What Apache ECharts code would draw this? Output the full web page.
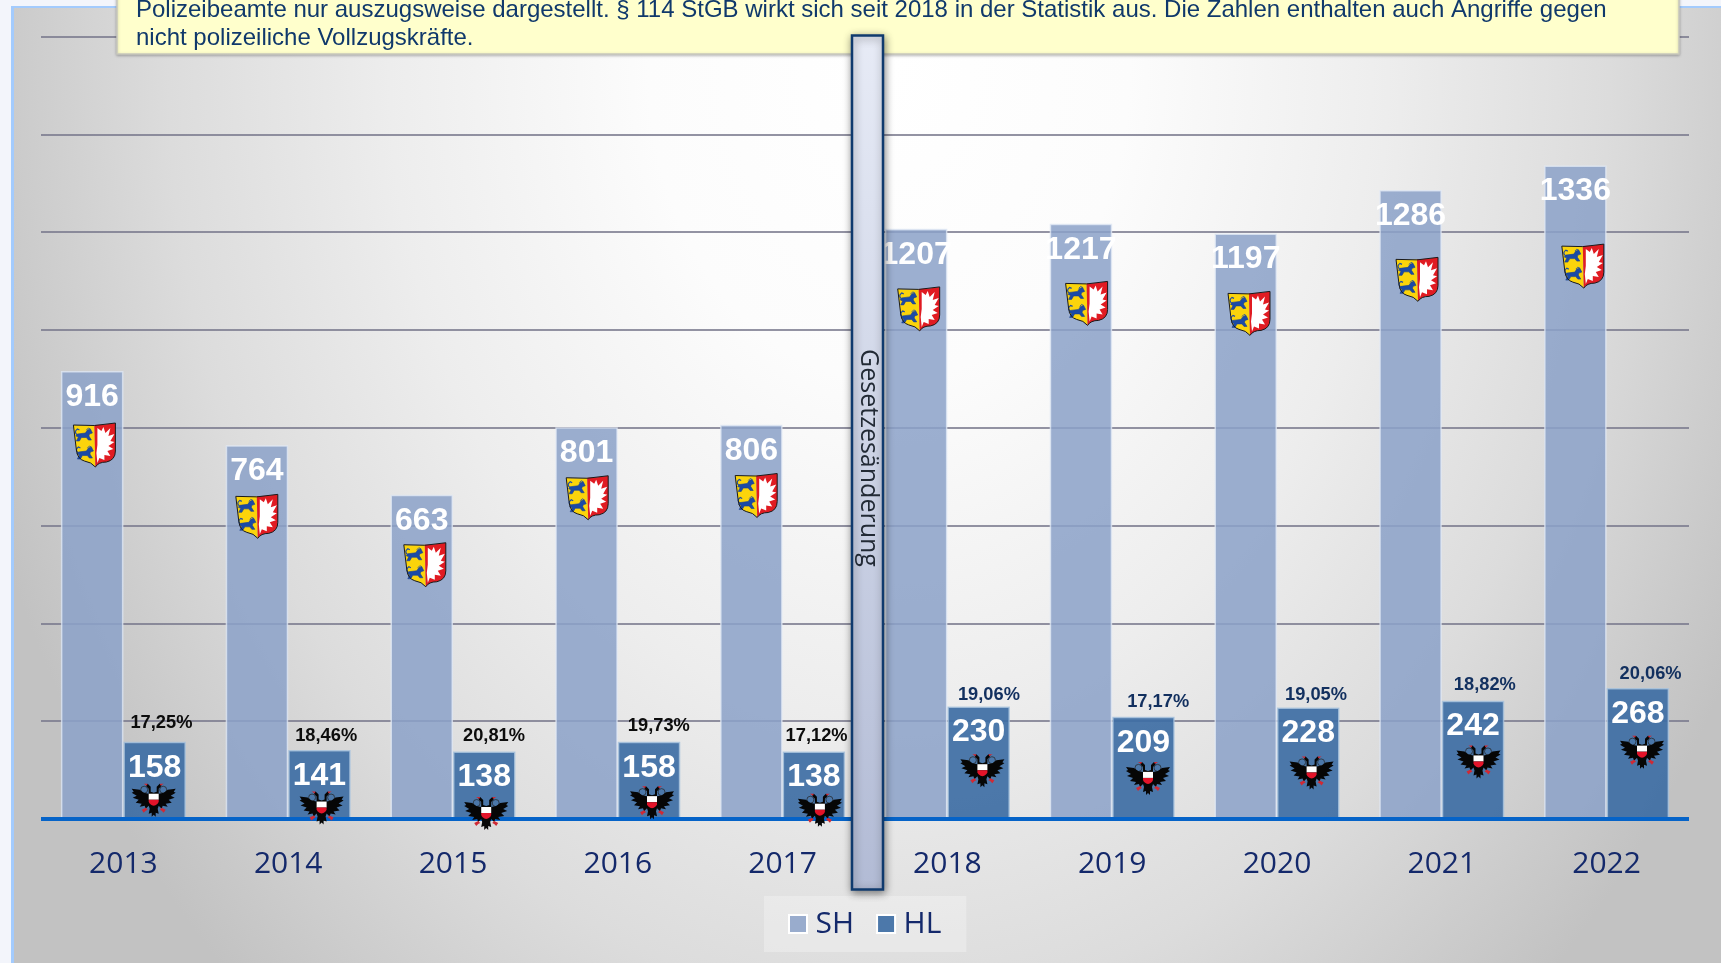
<!DOCTYPE html>
<html><head><meta charset="utf-8"><title>Widerstand gegen Vollstreckungsbeamte</title>
<style>
html,body{margin:0;padding:0;width:1721px;height:963px;overflow:hidden;background:#f3f5fb}
#panel{position:absolute;left:11px;top:6px;width:1710px;height:957px;box-sizing:border-box;border-left:3px solid #a3cbfd;border-top:2px solid #a3cbfd;
background:radial-gradient(ellipse 960px 1250px at 875px 60px,#ffffff 0%,#fcfcfc 25%,#ededed 52%,#dcdcdc 75%,#c2c2c2 100%)}
#chart{position:absolute;left:0;top:0;width:1721px;height:963px}
</style>
<script src="https://cdn.jsdelivr.net/npm/echarts@6/dist/echarts.min.js"></script>
</head><body><div id="panel"></div><div id="chart"></div>
<script>
const years = ['2013','2014','2015','2016','2017','2018','2019','2020','2021','2022'];
const shValues = [916,764,663,801,806,1207,1217,1197,1286,1336];
const hlValues = [158,141,138,158,138,230,209,228,242,268];
const hlShares = ['17,25%','18,46%','20,81%','19,73%','17,12%','19,06%','17,17%','19,05%','18,82%','20,06%'];
const noteLines = ['Polizeibeamte nur auszugsweise dargestellt. § 114 StGB wirkt sich seit 2018 in der Statistik aus. Die Zahlen enthalten auch Angriffe gegen','nicht polizeiliche Vollzugskräfte.'];
const lawChange = 'Gesetzesänderung';

// label and emblem offsets, relative to the library's own bar-top coordinate
const shareDx = [38,38,41,41,34,41.5,46,39,43,44];
const shareDy = [-18.7,-13.7,-15.2,-15.3,-15.2,-11.9,-14.5,-12.9,-15.9,-14.2];
const shieldDx = [-29,-31.4,-28.2,-30.6,-26.4,-28.7,-25.6,-28,-24.8,-23.8];
const shieldDy = [74,71,70,70.5,70.7,80.2,79.6,79.8,89.3,100.5];
const eagleDx = [30.3,33.4,33.2,34.2,37.3,35,35.8,34.6,36.7,35.4];
const eagleDy = [60,59.5,63.5,62.4,60.2,65.7,63.1,66.9,62.8,65.7];

const lionBody = 'M2,5L10,4L12,1L15,0L17,4L14,5L13.5,7L16,11L13,11L11,8.5L6,8.5L4,12L1,12L3,8L0.5,7Z';
const lionTail = 'M2,6Q-2,3 2,0L4,1';
function lionGroup(x,y){
  return {type:'group',x:x,y:y,children:[
    {type:'path',shape:{pathData:lionBody},style:{fill:'#1b4aa6',stroke:'#173f90',lineWidth:.6}},
    {type:'path',shape:{pathData:lionTail},style:{fill:'none',stroke:'#1b4aa6',lineWidth:1.2}},
    {type:'path',shape:{pathData:'M11,1L13,-1L15,0'},style:{fill:'none',stroke:'#1b4aa6',lineWidth:.8}}
  ]};
}
function shield(x,y){
  const outline='M-21,-20Q0,-18 21,-22L21,6Q21,15 12,17Q4,17 1,22Q-3,17 -10,16Q-17,14 -18,5Z';
  const left='M-21,-20Q-10,-19 0,-20L1,22Q-3,17 -10,16Q-17,14 -18,5Z';
  const right='M0,-20Q10,-20 21,-22L21,6Q21,15 12,17Q4,17 1,22Z';
  const leaf='M3,-17L7,-14L9,-18L11,-12L16,-17L14,-9L20,-11L16,-4L20,-3L14,1L19,4L13,6L16,11L10,10L10,15L5,13L3,18L2,8L3,0Z';
  return {type:'group',x:x,y:y,children:[
    {type:'path',shape:{pathData:left},style:{fill:'#fbd40b'}},
    {type:'path',shape:{pathData:right},style:{fill:'#e01b22'}},
    lionGroup(-19,-16),
    lionGroup(-18,2),
    {type:'path',shape:{pathData:leaf},style:{fill:'#ffffff'}},
    {type:'path',shape:{pathData:outline},style:{fill:'none',stroke:'#1a1a1a',lineWidth:1}}
  ]};
}
function eagle(x,y){
  const body='M0,-9L3,-10L3,-15L6,-18L8,-17L7,-15L5,-13L5,-8L10,-9L14,-12L22,-13L20,-10L22,-9L17,-6L21,-4L15,-2L18,1L12,2L14,5L9,4L8,7L5,4L4,7L5,12L2,11L2,15L0,13L-2,15L-2,11L-5,12L-4,7L-5,4L-8,7L-9,4L-14,5L-12,2L-18,1L-15,-2L-21,-4L-17,-6L-22,-9L-20,-10L-22,-13L-14,-12L-10,-9L-5,-8L-5,-13L-7,-15L-8,-17L-6,-18L-3,-15L-3,-10Z';
  const rings='M-13,-12a3.5,3.5 0 1,0 7,0a3.5,3.5 0 1,0 -7,0M6,-12a3.5,3.5 0 1,0 7,0a3.5,3.5 0 1,0 -7,0';
  return {type:'group',x:x,y:y,children:[
    {type:'path',shape:{pathData:rings},style:{fill:'none',stroke:'#222',lineWidth:.7}},
    {type:'path',shape:{pathData:body},style:{fill:'#060606'}},
    {type:'path',shape:{pathData:'M-12,8L-8,6L-6,8L-8,9L-10,11ZM12,8L8,6L6,8L8,9L10,11ZM-6,-18L-10,-18L-7,-16ZM6,-18L10,-18L7,-16Z'},style:{fill:'#cf2a35'}},
    {type:'path',shape:{pathData:'M-5,-8H5V-2H-5Z'},style:{fill:'#ffffff'}},
    {type:'path',shape:{pathData:'M-5,-2H5V0Q4,3 0,4Q-4,3 -5,0Z'},style:{fill:'#e3142a'}}
  ]};
}
const valueLabel = {show:true,position:'insideTop',distance:10,color:'#fff',fontFamily:'Liberation Sans',fontWeight:'bold',fontSize:32};
const chart = echarts.init(document.getElementById('chart'),null,{renderer:'canvas'});
chart.setOption({
  animation:false,
  backgroundColor:'transparent',
  grid:{left:41,right:32,top:36.5,bottom:144},
  legend:{data:['SH','HL'],left:764,top:896,padding:[13,25,13,24],itemGap:22,itemWidth:18,itemHeight:18,
    backgroundColor:'rgba(255,255,255,0.28)',icon:'rect',
    itemStyle:{borderColor:'#ffffff',borderWidth:2},
    textStyle:{color:'#14296b',fontFamily:'Open Sans',fontSize:30,padding:[0,0,0,3.5]}},
  xAxis:{type:'category',data:years,z:5,axisTick:{show:false},
    axisLine:{lineStyle:{color:'#0563c8',width:4,cap:'butt'}},
    axisLabel:{color:'#14296b',fontFamily:'Open Sans',fontSize:30,margin:30}},
  yAxis:{type:'value',min:0,max:1600,interval:200,axisLabel:{show:false},axisLine:{show:false},axisTick:{show:false},
    splitLine:{lineStyle:{color:'rgba(120,120,140,0.8)',width:2}}},
  series:[
    {name:'SH',type:'bar',data:shValues,barWidth:62.5,barGap:'0%',
      itemStyle:{color:'rgba(140,162,200,0.86)',borderColor:'rgba(226,233,245,0.75)',borderWidth:1.5},label:valueLabel},
    {name:'HL',type:'bar',data:hlValues,barWidth:62.5,
      itemStyle:{color:'rgba(62,110,164,0.92)',borderColor:'rgba(170,196,222,0.8)',borderWidth:1.5},label:valueLabel},
    {name:'Wappen SH',type:'custom',z:6,data:shValues.map((v,i)=>[i,v]),renderItem:(p,api)=>{
      const c=api.coord([api.value(0),api.value(1)]),i=p.dataIndex;
      return shield(c[0]+shieldDx[i],c[1]+shieldDy[i]);}},
    {name:'Wappen HL',type:'custom',z:6,data:hlValues.map((v,i)=>[i,v]),renderItem:(p,api)=>{
      const c=api.coord([api.value(0),api.value(1)]),i=p.dataIndex;
      return eagle(c[0]+eagleDx[i],c[1]+eagleDy[i]);}},
    {name:'Anteil',type:'custom',z:6,data:hlValues.map((v,i)=>[i,v]),renderItem:(p,api)=>{
      const c=api.coord([api.value(0),api.value(1)]),i=p.dataIndex;
      return {type:'text',x:c[0]+shareDx[i],y:c[1]+shareDy[i],style:{text:hlShares[i],
        font:'bold 18.3px "Liberation Sans"',fill:i<5?'#0c0c0c':'#12305f',align:'center',verticalAlign:'middle'}};}}
  ],
  graphic:{elements:[
    {type:'rect',z:20,silent:true,shape:{x:117,y:-30,width:1562,height:84},
      style:{fill:'#ffffcc',stroke:'#c9c9bd',lineWidth:1.5,shadowBlur:3,shadowColor:'rgba(0,0,0,0.25)',shadowOffsetY:1}},
    {type:'text',z:21,silent:true,x:136,y:10,style:{text:noteLines[0],font:'24px "Liberation Sans"',fill:'#10396b',verticalAlign:'middle'}},
    {type:'text',z:21,silent:true,x:136,y:38,style:{text:noteLines[1],font:'24px "Liberation Sans"',fill:'#10396b',verticalAlign:'middle'}},
    {type:'rect',z:22,silent:true,shape:{x:852,y:35.5,width:31,height:854},
      style:{fill:new echarts.graphic.LinearGradient(0,0,0,1,[{offset:0,color:'#e7ebf6'},{offset:1,color:'#b2bbd5'}]),
        stroke:'#0f3a6e',lineWidth:2.5,shadowBlur:8,shadowColor:'rgba(0,0,0,0.45)',shadowOffsetX:1,shadowOffsetY:2}},
    {type:'text',z:23,silent:true,x:868,y:458,rotation:-Math.PI/2,
      style:{text:lawChange,font:'25px "Open Sans"',fill:'#222a35',align:'center',verticalAlign:'middle'}}
  ]}
});
</script></body></html>
